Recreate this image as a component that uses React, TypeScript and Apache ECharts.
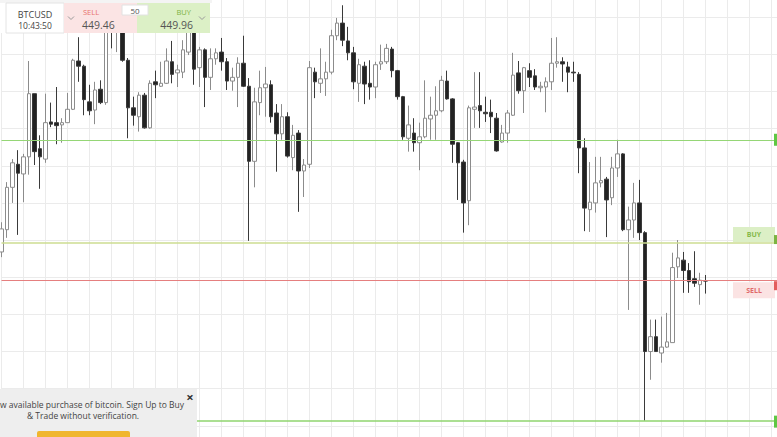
import React, { useEffect, useRef } from "react";
import * as echarts from "echarts";

// ---- data ----
// each candle: [open, close, low, high]
const candles: number[][] = [
  [449.84, 450.15, 449.77, 450.24],
  [450.14, 450.71, 450.03, 450.78],
  [450.71, 451.04, 450.5, 451.09],
  [451.02, 450.9, 450.07, 451.21],
  [450.89, 451.12, 450.51, 451.16],
  [451.12, 451.97, 450.88, 452.41],
  [451.97, 451.19, 451.01, 451.97],
  [451.23, 451.12, 450.69, 451.41],
  [451.09, 451.58, 451.04, 451.97],
  [451.59, 451.56, 451.52, 451.85],
  [451.58, 451.54, 451.29, 452.06],
  [451.55, 451.58, 451.31, 451.64],
  [451.58, 451.76, 451.58, 451.98],
  [451.76, 452.42, 451.75, 452.44],
  [452.41, 452.34, 452.13, 452.73],
  [452.34, 451.89, 451.68, 452.36],
  [451.86, 451.74, 451.68, 452.09],
  [451.75, 452.02, 451.56, 452.13],
  [452.03, 451.85, 451.83, 452.15],
  [451.85, 452.96, 451.82, 453.1],
  [452.96, 452.83, 452.58, 453.12],
  [452.83, 452.93, 452.53, 453.07],
  [452.93, 452.42, 452.4, 453.03],
  [452.42, 451.78, 451.37, 452.45],
  [451.78, 451.68, 451.54, 451.93],
  [451.66, 451.95, 451.46, 451.99],
  [451.95, 451.51, 451.5, 451.98],
  [451.51, 452.11, 451.5, 452.15],
  [452.13, 452.09, 451.91, 452.28],
  [452.07, 452.11, 452.06, 452.4],
  [452.11, 452.41, 452.1, 452.58],
  [452.4, 452.23, 452.11, 452.68],
  [452.25, 452.29, 452.06, 452.36],
  [452.26, 452.56, 452.18, 452.69],
  [452.53, 452.89, 452.49, 453.03],
  [452.89, 452.3, 452.09, 452.99],
  [452.32, 452.56, 452.06, 452.6],
  [452.56, 452.19, 451.79, 452.58],
  [452.19, 452.44, 452.02, 452.58],
  [452.44, 452.52, 452.36, 452.58],
  [452.53, 452.4, 452.28, 452.72],
  [452.4, 452.14, 452.02, 452.45],
  [452.14, 452.19, 452.01, 452.32],
  [452.19, 452.38, 451.79, 452.46],
  [452.38, 452.07, 452.06, 452.75],
  [452.07, 451.06, 449.99, 452.18],
  [451.06, 451.86, 450.71, 452.05],
  [451.85, 452.05, 451.68, 452.28],
  [452.05, 452.1, 451.66, 452.33],
  [452.09, 451.66, 451.58, 452.15],
  [451.71, 451.43, 450.92, 451.83],
  [451.43, 451.66, 451.35, 451.83],
  [451.66, 451.13, 451.11, 451.72],
  [451.11, 451.41, 450.94, 451.55],
  [451.44, 450.93, 450.38, 451.48],
  [450.93, 451.01, 450.58, 451.09],
  [451.02, 452.32, 450.97, 452.41],
  [452.26, 452.13, 451.91, 452.32],
  [452.11, 452.17, 451.98, 452.58],
  [452.17, 452.26, 451.94, 452.4],
  [452.26, 452.75, 452.23, 452.83],
  [452.75, 452.92, 452.69, 452.99],
  [452.92, 452.69, 452.61, 453.16],
  [452.68, 452.52, 452.42, 452.87],
  [452.52, 452.13, 452.03, 452.6],
  [452.11, 452.36, 451.86, 452.44],
  [452.34, 452.1, 451.83, 452.4],
  [452.11, 452.06, 451.89, 452.42],
  [452.06, 452.36, 451.91, 452.4],
  [452.37, 452.4, 452.29, 452.63],
  [452.4, 452.58, 452.37, 452.64],
  [452.57, 452.28, 452.19, 452.6],
  [452.28, 451.93, 451.89, 452.29],
  [451.93, 451.39, 451.35, 451.94],
  [451.37, 451.55, 451.19, 451.81],
  [451.44, 451.31, 451.19, 451.64],
  [451.31, 451.39, 450.94, 451.58],
  [451.39, 451.64, 451.37, 452.15],
  [451.63, 451.68, 451.35, 451.93],
  [451.68, 451.74, 451.35, 452.07],
  [451.74, 452.15, 451.72, 452.21],
  [452.14, 451.9, 451.89, 452.28],
  [451.9, 451.29, 451.04, 451.91],
  [451.31, 451.04, 450.54, 451.32],
  [451.05, 450.5, 450.1, 451.08],
  [450.53, 451.78, 450.2, 451.81],
  [451.76, 451.79, 451.51, 452.26],
  [451.81, 451.74, 451.51, 452.26],
  [451.72, 451.7, 451.59, 451.93],
  [451.72, 451.66, 451.44, 451.89],
  [451.64, 451.2, 451.19, 451.71],
  [451.32, 451.44, 451.31, 451.55],
  [451.44, 451.71, 451.31, 451.75],
  [451.68, 452.22, 451.67, 452.52],
  [452.25, 452.01, 451.97, 452.41],
  [452.01, 452.32, 451.71, 452.33],
  [452.28, 452.19, 452.06, 452.38],
  [452.21, 452.06, 452.02, 452.3],
  [452.05, 452.07, 451.99, 452.13],
  [452.06, 452.13, 451.72, 452.19],
  [452.13, 452.38, 452.02, 452.72],
  [452.38, 452.4, 452.32, 452.73],
  [452.4, 452.37, 452.13, 452.46],
  [452.33, 452.26, 451.99, 452.4],
  [452.26, 452.25, 452.13, 452.4],
  [452.23, 451.24, 450.9, 452.26],
  [451.24, 450.43, 450.12, 451.37],
  [450.41, 450.51, 450.11, 451.05],
  [450.5, 450.77, 450.37, 451.12],
  [450.77, 450.8, 450.71, 451.12],
  [450.82, 450.54, 450.04, 450.85],
  [450.57, 450.97, 450.47, 451.12],
  [450.97, 451.16, 450.85, 451.35],
  [451.16, 450.14, 450.12, 451.17],
  [450.14, 450.27, 449.06, 450.45],
  [450.27, 450.5, 450.03, 450.77],
  [450.5, 450.1, 450.0, 450.81],
  [450.1, 448.5, 447.57, 450.12],
  [448.5, 448.7, 448.12, 448.93],
  [448.7, 448.5, 448.5, 448.93],
  [448.48, 448.56, 448.35, 448.97],
  [448.56, 448.63, 448.55, 449.02],
  [448.62, 449.63, 448.62, 449.83],
  [449.64, 449.76, 449.49, 450.0],
  [449.73, 449.59, 449.29, 449.84],
  [449.59, 449.44, 449.29, 449.69],
  [449.48, 449.42, 449.37, 449.85],
  [449.4, 449.46, 449.13, 449.56],
  [449.45, 449.45, 449.28, 449.53],
];
const emptySlots = 13; // room to the right of the last candle
const categories: string[] = Array.from(
  { length: candles.length + emptySlots },
  (_, i) => String(i + 1)
);

const symbol = "BTCUSD";
const clock = "10:43:50";
const sellPrice = 449.46;
const buyPrice = 449.96;
const amount = "50";
const upperLevel = 451.35;
const lowerLevel = 447.57;

const FONT = "'Open Sans', 'Noto Sans', sans-serif";
// the chart canvas is taller than the window and shifted up, so that the
// price grid (every 0.5) falls where the reference shows it
const SHIFT = 20;
const CHART_H = 483;

export default function App() {
  const ref = useRef<HTMLDivElement>(null);

  useEffect(() => {
    document.body.style.margin = "0";
    const chart = echarts.init(ref.current!, null, { renderer: "svg" });
    const seriesData: any[] = [
      ...candles,
      ...Array.from({ length: emptySlots }, () => "-"),
    ];
    chart.setOption({
      animation: false,
      backgroundColor: "#ffffff",
      grid: { left: 1.5, right: 0, top: 0, bottom: 0 },
      xAxis: {
        type: "category",
        data: categories,
        boundaryGap: false,
        axisLine: { show: false },
        axisTick: { show: false },
        axisLabel: { show: false },
        splitLine: {
          show: true,
          interval: 3,
          lineStyle: { color: "#ebebeb", width: 1 },
        },
      },
      yAxis: {
        type: "value",
        min: 447,
        max: 453.5,
        interval: 0.5,
        axisLine: { show: false },
        axisTick: { show: false },
        axisLabel: { show: false },
        splitLine: { show: true, lineStyle: { color: "#ebebeb", width: 1 } },
      },
      series: [
        {
          type: "candlestick",
          data: seriesData,
          barWidth: 4,
          itemStyle: {
            color: "#ffffff",
            color0: "#222222",
            borderColor: "#8c8c8c",
            borderColor0: "#3a3a3a",
            borderWidth: 1,
          },
          markLine: {
            silent: true,
            symbol: "none",
            label: { show: false },
            emphasis: { disabled: true },
            data: [
              { yAxis: upperLevel, lineStyle: { color: "#95d676", width: 1, type: "solid" } },
              { yAxis: buyPrice, lineStyle: { color: "#cddd90", width: 1.6, type: "solid" } },
              { yAxis: sellPrice, lineStyle: { color: "#e57f7f", width: 1, type: "solid" } },
              { yAxis: lowerLevel, lineStyle: { color: "#8fd46e", width: 1.5, type: "solid" } },
            ],
          },
        },
      ],
    });

    const py = (v: number) => chart.convertToPixel({ yAxisIndex: 0 }, v) as number;
    const yUp = py(upperLevel);
    const yBuy = py(buyPrice);
    const ySell = py(sellPrice);
    const yLow = py(lowerLevel);
    const S = SHIFT; // screen y -> chart y

    const chevron = (x: number, y: number) => ({
      type: "polyline",
      shape: { points: [[x - 3, y - 1.5 + S], [x, y + 1.5 + S], [x + 3, y - 1.5 + S]] },
      style: { stroke: "#9a9a9a", lineWidth: 1, fill: null },
    });

    const elements: any[] = [
      // right side level labels and edge markers
      { type: "rect", shape: { x: 733, y: yBuy - 16, width: 42, height: 15 }, style: { fill: "#dcefc6" } },
      { type: "text", x: 754, y: yBuy - 8.5, style: { text: "BUY", fill: "#86b94a", font: `bold 7px ${FONT}`, align: "center", verticalAlign: "middle" } },
      { type: "rect", shape: { x: 733, y: ySell + 2, width: 42, height: 16 }, style: { fill: "#fbe3e3" } },
      { type: "text", x: 754, y: ySell + 10, style: { text: "SELL", fill: "#e06a6a", font: `bold 7px ${FONT}`, align: "center", verticalAlign: "middle" } },
      { type: "rect", shape: { x: 774, y: yUp - 6, width: 3, height: 12 }, style: { fill: "#5fc743" } },
      { type: "rect", shape: { x: 774, y: yBuy - 8, width: 3, height: 9 }, style: { fill: "#7cb342" } },
      { type: "rect", shape: { x: 774, y: ySell + 1, width: 3, height: 9 }, style: { fill: "#e35d5d" } },
      { type: "rect", shape: { x: 774, y: yLow - 5, width: 3, height: 12 }, style: { fill: "#5fc743" } },

      // top trade panel
      { type: "rect", shape: { x: 0, y: S, width: 212, height: 3 }, style: { fill: "#f4f4f4" } },
      { type: "rect", shape: { x: 0, y: 3 + S, width: 6, height: 30 }, style: { fill: "#ffffff" } },
      { type: "rect", shape: { x: 6, y: 3 + S, width: 58, height: 30 }, style: { fill: "#ffffff", stroke: "#e4e4e4", lineWidth: 1 } },
      { type: "text", x: 35, y: 14 + S, style: { text: symbol, fill: "#444", font: `9px ${FONT}`, align: "center", verticalAlign: "middle" } },
      { type: "text", x: 35, y: 25 + S, style: { text: clock, fill: "#444", font: `8.5px ${FONT}`, align: "center", verticalAlign: "middle" } },
      { type: "rect", shape: { x: 64, y: 3 + S, width: 73, height: 30 }, style: { fill: "#fbe4e4" } },
      chevron(71, 18),
      { type: "text", x: 83, y: 12 + S, style: { text: "SELL", fill: "#e8726e", font: `7.5px ${FONT}`, align: "left", verticalAlign: "middle" } },
      { type: "text", x: 82, y: 25 + S, style: { text: sellPrice.toFixed(2), fill: "#555", font: `10.5px ${FONT}`, align: "left", verticalAlign: "middle" } },
      { type: "rect", shape: { x: 137, y: 3 + S, width: 73, height: 30 }, style: { fill: "#dcf0c6" } },
      { type: "text", x: 191, y: 12 + S, style: { text: "BUY", fill: "#7cb342", font: `7.5px ${FONT}`, align: "right", verticalAlign: "middle" } },
      { type: "text", x: 193, y: 25 + S, style: { text: buyPrice.toFixed(2), fill: "#555", font: `10.5px ${FONT}`, align: "right", verticalAlign: "middle" } },
      chevron(202, 18),
      { type: "rect", shape: { x: 122, y: 5 + S, width: 26, height: 10 }, style: { fill: "#ffffff", stroke: "#e2e2e2", lineWidth: 1 } },
      { type: "text", x: 135, y: 10.5 + S, style: { text: amount, fill: "#555", font: `8px ${FONT}`, align: "center", verticalAlign: "middle" } },

      // bottom promo box
      { type: "rect", shape: { x: 0, y: 389 + S, width: 197, height: 60 }, style: { fill: "#eeeeee" } },
      { type: "text", x: 0, y: 404 + S, style: { text: "w available purchase of bitcoin. Sign Up to Buy", fill: "#444", font: `8.5px ${FONT}`, align: "left", verticalAlign: "middle" } },
      { type: "text", x: 83, y: 415 + S, style: { text: "& Trade without verification.", fill: "#444", font: `8.5px ${FONT}`, align: "center", verticalAlign: "middle" } },
      { type: "text", x: 190, y: 397 + S, style: { text: "×", fill: "#333", font: `bold 13px ${FONT}`, align: "center", verticalAlign: "middle" } },
      { type: "rect", shape: { x: 37, y: 431 + S, width: 93, height: 14, r: 2 }, style: { fill: "#f0b62f" } },
    ];
    chart.setOption({
      graphic: elements.map((e, i) => ({ ...e, z: 100, zlevel: 0, z2: i })),
    });

    return () => chart.dispose();
  }, []);

  return (
    <div style={{ position: "relative", width: 777, height: 437, overflow: "hidden" }}>
      <div
        ref={ref}
        style={{ position: "absolute", left: 0, top: -SHIFT, width: 777, height: CHART_H }}
      />
    </div>
  );
}
